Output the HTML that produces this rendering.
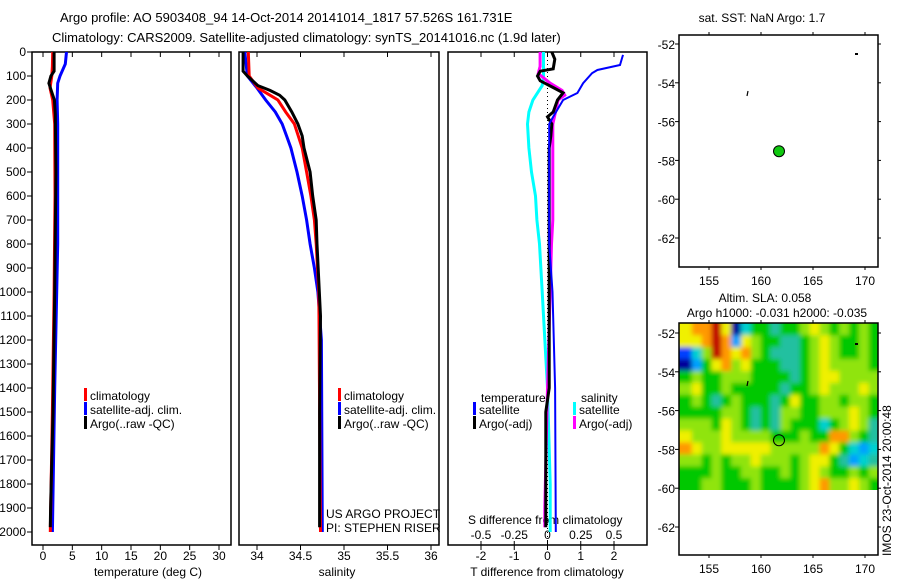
<!DOCTYPE html>
<html><head><meta charset="utf-8"><style>
html,body{margin:0;padding:0;background:#fff;}
svg{display:block;font-family:"Liberation Sans",sans-serif;}
</style></head><body>
<svg id="fig" width="900" height="580" viewBox="0 0 900 580" xmlns="http://www.w3.org/2000/svg">
<defs>
<clipPath id="heatclip"><rect x="679" y="323" width="199" height="167"/></clipPath>
<filter id="smooth" x="-5%" y="-5%" width="110%" height="110%"><feGaussianBlur stdDeviation="2.5"/></filter>
</defs>
<text x="60" y="22" font-size="13">Argo profile: AO 5903408_94 14-Oct-2014 20141014_1817 57.526S 161.731E</text>
<text x="52" y="42" font-size="13">Climatology: CARS2009. Satellite-adjusted climatology: synTS_20141016.nc (1.9d later)</text>
<g id="layer"></g>
</svg>
<script>
// ---- data ----
const depthTicks=[0,100,200,300,400,500,600,700,800,900,1000,1100,1200,1300,1400,1500,1600,1700,1800,1900,2000];
const tempTicks=[0,5,10,15,20,25,30];
const salTicks=[34,34.5,35,35.5,36];
const tdiffTicks=[-2,-1,0,1,2];
const sdiffTicks=[-0.5,-0.25,0,0.25,0.5];
const sdiffLabels=["-0.5","-0.25","0","0.25","0.5"];
const latTicks=[-52,-54,-56,-58,-60,-62];
const lonTicks=[155,160,165,170];

const tClimDepth=[0,60,100,150,200,300,600,1000,1500,2000];
const tClimVal=[1.65,1.6,1.5,1.2,1.65,2.0,2.05,1.9,1.6,1.25];
const tSatDepth=[0,50,100,130,200,300,800,1400,2000];
const tSatVal=[4.0,3.8,2.9,2.5,2.4,2.5,2.5,2.0,1.6];
const tArgoDepth=[0,80,100,130,160,200,260,500,1000,1500,1700,1900,1980];
const tArgoVal=[1.9,1.9,1.35,1.0,1.4,1.95,2.1,2.2,2.0,1.7,1.5,1.3,1.25];

const sArgoDepth=[0,80,100,140,160,180,200,250,300,350,400,500,600,700,800,1100,1500,1980];
const sArgoVal=[33.84,33.84,33.89,34.01,34.15,34.26,34.32,34.40,34.47,34.52,34.54,34.61,34.64,34.68,34.69,34.73,34.72,34.72];
const sClimDepth=[0,100,150,180,200,250,300,400,500,600,700,800,1000,2000];
const sClimVal=[33.9,33.91,34.01,34.15,34.24,34.33,34.43,34.52,34.57,34.62,34.66,34.68,34.71,34.73];
const sSatDepth=[0,100,150,200,250,300,350,400,500,600,700,800,900,1000,1200,2000];
const sSatVal=[33.86,33.89,34.0,34.1,34.21,34.29,34.34,34.39,34.46,34.52,34.57,34.61,34.66,34.70,34.74,34.75];

const dTSatDepth=[12,54,75,88,130,171,200,270,300,800,1000,1400,2000];
const dTSatVal=[2.27,2.18,1.5,1.34,1.07,0.9,0.47,0.17,0.05,0.05,0.15,0.23,0.25];
const dTArgoDepth=[0,30,70,80,100,120,150,170,200,250,270,300,350,400,1400,1500,1900,1980];
const dTArgoVal=[0.13,0.22,0.17,-0.22,-0.3,-0.22,0.2,0.47,0.3,0.17,0,0.13,0.1,0.05,0.05,-0.05,-0.05,-0.05];
const dSArgoDepth=[0,60,90,130,160,180,200,250,300,700,800,1400,1900,1980];
const dSArgoVal=[-0.056,-0.056,-0.07,0.02,0.11,0.13,0.08,0.06,0.04,0.04,0.03,0.0,-0.02,-0.02];
const dSSatDepth=[0,100,140,200,250,300,400,500,600,700,800,1000,1400,1800,2000];
const dSSatVal=[-0.03,-0.03,-0.04,-0.11,-0.14,-0.15,-0.14,-0.12,-0.09,-0.08,-0.06,-0.04,0.0,0.02,0.02];

const argoLon=161.731, argoLat=-57.526;
const slaLonMin=152.4, slaLonMax=171.3, slaLatMax=-51.5, slaLatMin=-60.1;
const slaGrid=[
[7,8,8,9,7,0,3,5,5,4,5,5,6,7,6,5,6,5,6,5],
[7,7,8,9,8,2,7,6,5,5,4,4,5,6,7,6,5,5,6,5],
[1,3,6,9,8,7,8,6,5,4,4,4,5,6,7,6,5,5,6,5],
[0,2,5,7,8,6,7,5,5,5,4,4,5,6,7,6,6,6,6,5],
[5,6,5,5,6,6,6,5,5,5,5,4,5,6,7,7,6,6,6,6],
[6,7,5,5,6,5,5,5,5,5,4,5,5,6,7,6,6,6,7,6],
[5,6,5,4,5,6,5,5,5,4,5,7,5,5,6,6,5,6,6,5],
[5,5,5,5,6,6,5,4,5,4,6,6,5,5,6,6,6,7,6,5],
[6,6,6,5,7,6,5,4,5,4,6,5,5,5,3,5,6,7,6,4],
[7,6,6,6,7,6,6,6,6,5,5,5,6,5,5,8,8,6,5,4],
[8,7,6,6,7,7,7,7,7,6,6,6,6,6,8,7,5,3,2,3],
[6,6,5,6,5,6,6,7,6,6,6,5,6,7,7,5,4,2,3,4],
[5,5,5,6,5,5,6,6,5,5,6,5,6,7,6,5,5,6,5,6],
[5,5,6,6,5,5,5,6,5,5,5,5,6,7,8,6,6,7,6,5]
];
const cmap=['#00009a','#0040ff','#00a0ff','#00d0d0','#20c0a0','#00c800','#90e410','#f0f000','#ff9800','#c00000'];

// ---- helpers ----
const NS='http://www.w3.org/2000/svg';
const layer=document.getElementById('layer');
function mk(tag,attrs,parent){const e=document.createElementNS(NS,tag);for(const k in attrs)e.setAttribute(k,attrs[k]);(parent||layer).appendChild(e);return e;}
function txt(x,y,s,size,anchor){const t=mk('text',{x:x,y:y,'font-size':size||12,'text-anchor':anchor||'start'});t.textContent=s;return t;}
const yD=d=>52+d*0.24;
const xT=v=>43+v*5.867;
const xS=v=>257+(v-34)*87;
const xdT=v=>547.5+v*33.25;
const xdS=v=>547.5+v*133;
const PT=52,PB=545;
function frame(x0,x1,name){const r=mk('rect',{x:x0,y:PT,width:x1-x0,height:PB-PT,fill:'none',stroke:'#000','stroke-width':1.5});

}
function line(ds,vs,xf,color,w,name){const pts=ds.map((d,i)=>xf(vs[i]).toFixed(1)+','+yD(d).toFixed(1)).join(' ');
const p=mk('polyline',{points:pts,fill:'none',stroke:color,'stroke-width':w||3});

}
function xticks(ticks,xf,labels,title,tx){ticks.forEach((t,i)=>{const x=xf(t);mk('line',{x1:x,x2:x,y1:PB,y2:PB+5,stroke:'#000'});mk('line',{x1:x,x2:x,y1:PT,y2:PT+5,stroke:'#000'});
const l=txt(x,560,labels?labels[i]:String(t),12,'middle');

});
const tt=txt(tx,576,title,12,'middle');

}
function legendEntry(x,y,color,label){mk('rect',{x:x,y:y-10,width:3,height:13,fill:color});const t=txt(x+6,y+2,label,12);

}

// ---- panel 1: temperature ----
frame(32,231,'temperature-panel');
depthTicks.forEach(d=>{const y=yD(d);mk('line',{x1:32,x2:27,y1:y,y2:y,stroke:'#000'});const l=txt(26,y+4,String(d),12,'end');

});
xticks(tempTicks,xT,null,'temperature (deg C)',148);
line(tSatDepth,tSatVal,xT,'#0000ff',3,'temp-satellite-line');
line(tClimDepth,tClimVal,xT,'#ff0000',3,'temp-climatology-line');
line(tArgoDepth,tArgoVal,xT,'#000',3,'temp-argo-line');
legendEntry(84,398,'#ff0000','climatology');
legendEntry(84,412,'#0000ff','satellite-adj. clim.');
legendEntry(84,426,'#000','Argo(..raw -QC)');

// ---- panel 2: salinity ----
frame(239,439,'salinity-panel');
xticks(salTicks,xS,null,'salinity',337);
line(sSatDepth,sSatVal,xS,'#0000ff',3,'sal-satellite-line');
line(sClimDepth,sClimVal,xS,'#ff0000',3,'sal-climatology-line');
line(sArgoDepth,sArgoVal,xS,'#000',3,'sal-argo-line');
legendEntry(338,398,'#ff0000','climatology');
legendEntry(338,412,'#0000ff','satellite-adj. clim.');
legendEntry(338,426,'#000','Argo(..raw -QC)');
txt(326,518,'US ARGO PROJECT',12);
txt(326,532,'PI: STEPHEN RISER',12);

// ---- panel 3: differences ----
frame(448,647,'difference-panel');
xticks(tdiffTicks,xdT,null,'T difference from climatology',547);
sdiffTicks.forEach((t,i)=>{const x=xdS(t);mk('line',{x1:x,x2:x,y1:PB,y2:PB-4,stroke:'#000'});const l=txt(x,539,sdiffLabels[i],12,'middle');

});
txt(468,524,'S difference from climatology',12);
mk('line',{x1:547.5,x2:547.5,y1:PT,y2:PB,stroke:'#000','stroke-dasharray':'1,3','stroke-width':1});
line(dSSatDepth,dSSatVal,xdS,'#00ffff',3,'sdiff-satellite-line');
line(dSArgoDepth,dSArgoVal,xdS,'#ff00ff',3,'sdiff-argo-line');
line(dTArgoDepth,dTArgoVal,xdT,'#000',3,'tdiff-argo-line');
line(dTSatDepth,dTSatVal,xdT,'#0000ff',2,'tdiff-satellite-line');
txt(481,402,'temperature',12);
txt(581,402,'salinity',12);
legendEntry(473,412,'#0000ff','satellite');
legendEntry(473,426,'#000','Argo(-adj)');
legendEntry(573,412,'#00ffff','satellite');
legendEntry(573,426,'#ff00ff','Argo(-adj)');

// ---- maps ----
const MX0=679,MX1=878;
const xLon=l=>709+(l-155)*10.4;
function mapAxes(top,latY,name){
 const r=mk('rect',{x:MX0,y:top,width:MX1-MX0,height:232,fill:'none',stroke:'#000','stroke-width':1.5});
 
 
 latTicks.forEach(l=>{const y=latY(l);mk('line',{x1:MX0,x2:MX0-4,y1:y,y2:y,stroke:'#000'});mk('line',{x1:MX1,x2:MX1+3,y1:y,y2:y,stroke:'#000'});
  const t=txt(MX0-4,y+5,String(l),12,'end');
  
  });
 lonTicks.forEach(l=>{const x=xLon(l);mk('line',{x1:x,x2:x,y1:top,y2:top-3,stroke:'#000'});mk('line',{x1:x,x2:x,y1:top+232,y2:top+235,stroke:'#000'});
  const t=txt(x,top+250,String(l),12,'middle');
  
  });
}
const latTop=l=>44+(-52-l)*19.4;
const latBot=l=>333+(-52-l)*19.4;

// top map
txt(762,22,'sat. SST: NaN Argo: 1.7',12,'middle');
mapAxes(35,latTop,'sst-map');
mk('rect',{x:855,y:53,width:3,height:2,fill:'#000'});
mk('line',{x1:748,x2:747,y1:91,y2:96,stroke:'#000','stroke-width':1.2});
const dot1=mk('circle',{cx:xLon(argoLon),cy:latTop(argoLat),r:5.5,fill:'#10c810',stroke:'#000','stroke-width':1});



// bottom map (SLA heatmap)
txt(765,302,'Altim. SLA: 0.058',12,'middle');
txt(777,317,'Argo h1000: -0.031 h2000: -0.035',12,'middle');
const clipG=mk('g',{'clip-path':'url(#heatclip)'});
const heat=mk('g',{filter:'url(#smooth)'},clipG);


const nR=slaGrid.length,nC=slaGrid[0].length;
const hx0=xLon(slaLonMin),hx1=xLon(slaLonMax),hy0=latBot(slaLatMax),hy1=latBot(slaLatMin);
const cw=(hx1-hx0)/nC,ch=(hy1-hy0)/nR;
const pad=12;
slaGrid.forEach((row,r)=>row.forEach((v,c)=>{
 let x=hx0+c*cw,y=hy0+r*ch,w=cw+0.5,h=ch+0.5;
 if(c===0){x-=pad;w+=pad;} if(c===nC-1){w+=pad;}
 if(r===0){y-=pad;h+=pad;} if(r===nR-1){h+=pad;}
 const cell=mk('rect',{x:x.toFixed(2),y:y.toFixed(2),width:w.toFixed(2),height:h.toFixed(2),fill:cmap[v]},heat);
 
 
}));
mapAxes(323,latBot,'sla-map');
mk('rect',{x:855,y:343,width:3,height:2,fill:'#000'});
mk('line',{x1:748,x2:747,y1:381,y2:386,stroke:'#000','stroke-width':1.2});
const dot2=mk('circle',{cx:xLon(argoLon),cy:latBot(argoLat),r:5.5,fill:'none',stroke:'#000','stroke-width':1});


const stamp=txt(0,0,'IMOS 23-Oct-2014 20:00:48',12,'start');
stamp.setAttribute('transform','translate(891,556) rotate(-90)');


</script>
</body></html>
